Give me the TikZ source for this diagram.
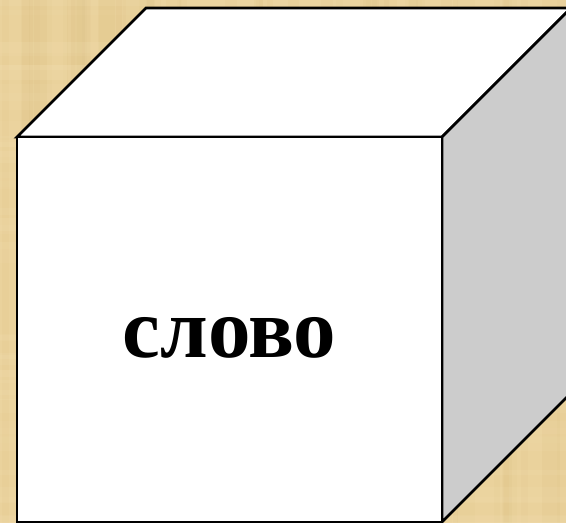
\documentclass[tikz,border=0pt]{standalone}
\usepackage{fontspec}
\setmainfont{Liberation Serif}[BoldFont={Liberation Serif Bold}]
\definecolor{parch}{RGB}{234,210,156}
\definecolor{parchdark}{RGB}{210,180,115}
\definecolor{parchlight}{RGB}{246,228,185}
\definecolor{sideface}{RGB}{204,204,204}
\begin{document}
\begin{tikzpicture}[x=1pt,y=-1pt,
  edge/.style={draw=black,line width=2.8pt,line join=miter},
  word/.style={font=\bfseries\fontsize{85}{85}\selectfont,anchor=base,inner sep=0pt}]
\useasboundingbox (0,0) rectangle (566,523);
\clip (0,0) rectangle (566,523);
\fill[parch] (0,0) rectangle (566,523);
\pgfmathsetseed{7}
\foreach \i in {1,...,50}{
  \pgfmathsetmacro{\xx}{566*rnd}
  \pgfmathsetmacro{\ww}{4+14*rnd}
  \pgfmathsetmacro{\oo}{0.05+0.08*rnd}
  \fill[parchdark,opacity=\oo] (\xx,0) rectangle ++(\ww,523);
}
\foreach \i in {1,...,40}{
  \pgfmathsetmacro{\yy}{523*rnd}
  \pgfmathsetmacro{\hh}{4+14*rnd}
  \pgfmathsetmacro{\oo}{0.06+0.10*rnd}
  \fill[parchlight,opacity=\oo] (0,\yy) rectangle ++(566,\hh);
}
\coordinate (A) at (17,137);
\coordinate (B) at (442,137);
\coordinate (C) at (442,522);
\coordinate (D) at (17,522);
\coordinate (E) at (146,8);
\coordinate (F) at (571,8);
\coordinate (G) at (571,393);
\filldraw[fill=white,edge] (A) -- (E) -- (F) -- (B) -- cycle;
\filldraw[fill=sideface,edge] (B) -- (F) -- (G) -- (C) -- cycle;
\filldraw[fill=white,edge] (A) -- (B) -- (C) -- (D) -- cycle;
\node[word] (w) at (229.5,357) {слово};
\end{tikzpicture}
\end{document}
